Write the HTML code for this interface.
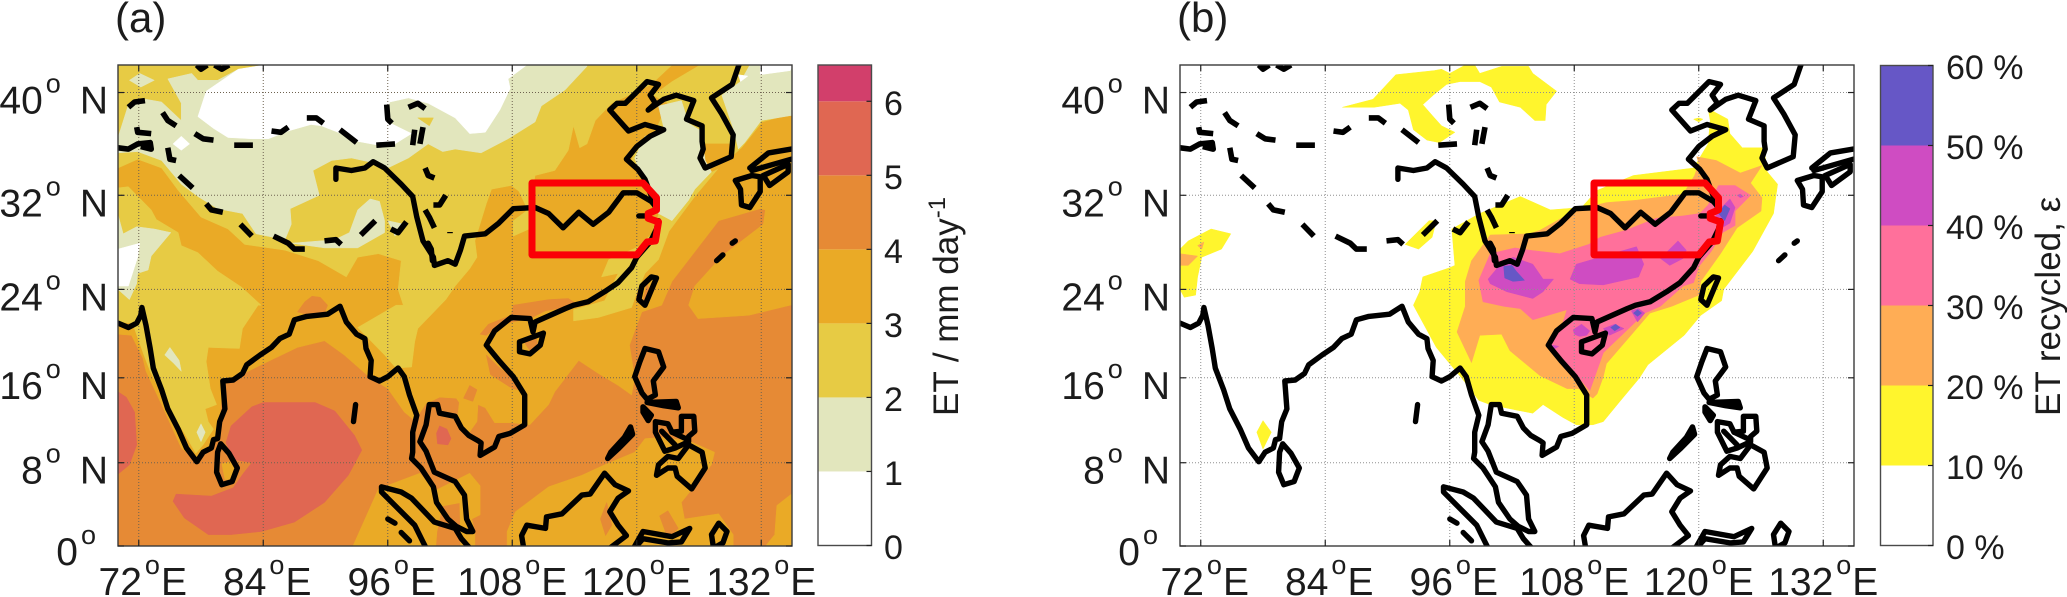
<!DOCTYPE html>
<html>
<head>
<meta charset="utf-8">
<title>ET and ET recycled maps</title>
<style>
html,body{margin:0;padding:0;background:#fff;}
svg{display:block;font-family:"Liberation Sans",sans-serif;fill:#1c1c1c;}
</style>
</head>
<body>
<svg id="fig" xmlns="http://www.w3.org/2000/svg" width="2067" height="597" viewBox="0 0 2067 597">
<defs>
<clipPath id="clip-a"><rect x="118" y="65" width="674" height="481"/></clipPath>
<clipPath id="clip-b"><rect x="1180" y="65" width="674" height="481"/></clipPath>
</defs>
</svg>
<script>
// ---------- axis data ----------
const lonTicks = [72, 84, 96, 108, 120, 132];
const latTicks = [0, 8, 16, 24, 32, 40];
const etBarTicks = [0, 1, 2, 3, 4, 5, 6];
const etBarEdges = [0, 1, 2, 3, 4, 5, 6, 6.49];
const etBarColors = ['#ffffff', '#e2e6bd', '#e7cb44', '#eaaa26', '#e68a35', '#e06752', '#d23f6b'];
const recBarTicks = [0, 10, 20, 30, 40, 50, 60];
const recBarEdges = [0, 10, 20, 30, 40, 50, 60];
const recBarColors = ['#ffffff', '#fff52d', '#ffad55', '#ff709b', '#cf4cc2', '#6657c6'];

// ---------- panel (a) contours, lon/lat ----------
const etFull = [[70,-1],[135,-1],[135,42],[70,42]];
const etGoldNorth = [[70,20],[71.3,19.9],[72.4,17.8],[72.7,16.6],[74.2,13.5],[76.1,9.4],[77.7,8.1],[79.6,10.3],[80.1,15.3],[81.9,16.3],[83.8,17.2],[87.3,18.8],[89.9,19.4],[91.8,18.1],[94.3,16],[96,15],[97.6,12.8],[98.6,12],[99.7,13.6],[101,14.2],[102.6,14.1],[102.9,13.7],[102.7,12.1],[103.8,10.8],[104.6,11.9],[104.7,13.5],[105.4,13.2],[106.3,11.8],[107.9,11.8],[109.7,11.6],[111.5,13.5],[112.1,14.7],[114.4,17.6],[116.3,16.4],[118.2,15.3],[119.5,14.4],[119.8,16],[119.3,19],[120,20.8],[120.5,22],[122.4,22.6],[123.4,24.7],[127.9,29.9],[131.9,30.9],[132.4,30.8],[132.2,29.6],[128.2,26.9],[125.6,24.3],[125,22.6],[125.9,21.4],[130.8,21.7],[134.8,22.6],[135,22.6],[135,42],[70,42]];
const etGoldBorneo = [[107.5,-1],[107.5,1.4],[108.3,3.3],[111.5,5.7],[114.7,6.8],[116.9,7.8],[119.8,9],[120.8,10.3],[122.4,10.4],[125,10.1],[127.5,9],[127.2,7.8],[124.3,4.2],[124.6,2.6],[127.9,3.1],[129.3,1.1],[129.3,-1]];
const etGoldEast = [[131.6,-1],[133.3,1.1],[133.5,3.9],[134.9,5],[135,5],[135,-1]];
const etGoldMalay = [[92.2,-1],[95.1,5.5],[99.1,7],[100.5,5.3],[102.5,6.3],[103.9,7],[104.9,5.8],[104.9,3],[104.1,2.6],[104.4,1.3],[104.4,-1]];
const etGoldLanka = [[80,7.9],[80.8,8.1],[81.6,7.2],[81.1,6.4],[80.3,6.4]];
const etOrangeBengal = [[87.3,22],[88,22.9],[88.7,23.4],[89.5,23.3],[90.2,22.6],[89.9,21.9],[88.5,21.7]];
const etOrangeCoast = [[104.9,20],[105.7,20.9],[107.9,21.7],[108.1,22.6],[111.5,23.1],[113.4,23.2],[114.4,22.6],[111.2,22.1],[109.9,21.5],[106.7,20.8],[105.5,19.9]];
const etOrangeVietnam = [[105.5,18.1],[106.7,17],[108,16],[109.1,14.8],[108,15],[105.9,16.3]];
const etOrangeLaos = [[103.3,14.1],[103.9,15.3],[104.6,14.9],[104.2,13.8]];
const etOrangeBorneoA = [[116.5,2.6],[117.1,4.2],[117.6,2],[117,1]];
const etOrangeBorneoB = [[122.2,2.9],[123,3.4],[124,1.7],[123,0.7]];
const etOrangeTaiwan = [[120.6,23.1],[121,24.5],[121.3,23.8],[121,22.6]];
const etOrangeHainan = [[109.2,19.2],[110.3,19.6],[110.5,19],[109.7,18.5]];
const etOrangeMalaya = [[101.3,3.8],[102.9,4.1],[103,-1],[100.6,-1],[100.8,1.4]];
const etRedBengal = [[75.3,4.3],[75.6,5],[79,4.8],[81.1,5.6],[82.1,7],[82.9,8],[81.2,8.3],[80.4,9.9],[80.9,11.5],[82.9,13.3],[84,13.7],[89,13.7],[90.9,12.9],[92.8,10.6],[93.5,9.2],[92.2,6.8],[89.9,4.2],[87,2.3],[83.8,1.4],[80.9,1.1],[78.7,1.1],[76.4,2.7]];
const etRedWest = [[70,14.7],[70.8,14.2],[71.6,12.8],[71.8,9.7],[71.1,7.8],[70,6.9]];
const etRedThai = [[100.7,10.8],[101,11.5],[101.7,11.2],[102.1,10.3],[101.8,9.7],[100.8,9.8]];
const etYellowNorth = [[70,34.2],[71.9,34.9],[74.2,34.2],[75.8,32.4],[78,30.2],[80.6,29.2],[82.2,27.9],[86.1,27.4],[89.3,26.5],[92,25.1],[93.1,26.8],[95.1,27.1],[97.3,26.5],[97,24],[97.5,22.6],[96.8,22.6],[93.1,20.6],[95.7,18.1],[96.8,16.9],[98.3,17],[98.6,19.3],[98.9,20.5],[101.6,23.1],[102.5,24.3],[103.9,25.8],[104.6,26.8],[104.4,28.2],[105.5,31.3],[106,32.5],[107.9,32.8],[108.7,32.3],[109.9,32.2],[110.2,33.6],[112.1,34],[113.4,35.6],[113.9,37.5],[114.5,35.8],[115.2,36.1],[116,37.9],[117.6,39.2],[119.8,40],[121.4,40.6],[123.4,42],[70,42]];
const etYellowBox = [[108.6,32.4],[109.9,32.4],[109.9,29.3],[108.1,28.6],[108.1,29.9],[109.5,30.8]];
const etYellowIndia = [[70,32.6],[71,32.7],[73.2,30.8],[73.7,30],[75.8,28.9],[76.1,27.8],[77.7,27.2],[79.6,25.6],[81.9,24.2],[83.8,22.6],[83.5,22.6],[82,20.5],[81.7,18.7],[78.7,18.8],[78.5,17.5],[78.9,15],[79.5,13.5],[78.4,13.1],[78.7,11.9],[79.2,11.2],[78.2,9.7],[77.5,8.9],[76.4,10.8],[75.3,12.5],[74,14.9],[73.1,16.6],[72.5,18.1],[71.4,21],[70,21.1]];
const etYellowEast = [[126.1,42],[123.4,40.8],[121.6,39.8],[123,39.2],[121.8,37.1],[120,36.1],[119.5,34.8],[120.6,33.3],[122.1,30.5],[121.8,29.1],[120.2,27.7],[117.3,26.6],[116.6,25.1],[118.2,25.4],[116.9,23],[113.9,22.2],[113.9,21.2],[116.3,21.5],[119.5,22.4],[120,23.7],[120.8,25.4],[122.1,26.6],[123.1,29],[125.6,31.9],[127.9,34.2],[130.1,35.8],[132.1,37.8],[134.9,38.4],[135,38.4],[135,42]];
const etGoldKorea = [[126.4,36.1],[127.5,36.1],[129.1,36.1],[129.5,34.8],[127.2,33.9],[126.4,34.6]];
const etPaleMain = [[70,35.4],[71.9,35.5],[74.2,34.8],[76.1,32.9],[77.7,31.9],[79.6,30.9],[82,30.5],[83.3,28.8],[86.1,28.3],[86.7,29.6],[86.6,30.9],[89.4,32],[88.8,34],[90.6,34.8],[92.5,35],[94.7,34.6],[96,34.2],[98,35],[99.9,36.1],[101.3,35.5],[102.5,35.7],[105,35.4],[107.6,36.5],[110.2,37.8],[110.8,39],[113.1,40.2],[115.2,41.9],[115.2,42],[85,42],[81.6,41.7],[79.6,40.9],[77.7,40.9],[77.1,41.4],[74.8,41],[76.1,39.2],[76.1,37.9],[74.2,39.3],[72.7,39.5],[71,39.1],[70,36.6]];
const etPaleTibet = [[86.7,28],[89.9,27.6],[93.1,27.6],[95.7,28.9],[95.7,29.9],[95.2,31.5],[94.3,31.7],[93.1,30.8],[92.3,28.9],[90.9,28.3]];
const etPaleSmall = [[96,29.9],[97.6,29.6],[96.7,28.6]];
const etPaleDiamond = [[71.1,40.9],[72.1,41.4],[73.5,40.9],[72.2,40.4]];
const etPaleLeft = [[70,30.4],[70.5,28.8],[71.8,29.4],[73.5,29.2],[75.1,28.9],[73.2,26.9],[72.9,25.7],[71.9,25.4],[71.8,24.5],[71.1,23.1],[70,24]];
const etPaleDeccanA = [[74.5,18.1],[75,18.8],[75.9,17.6],[76.1,16.6],[75.3,17.4]];
const etPaleDeccanB = [[77.6,10.9],[78,11.7],[78.4,10.9],[78,10]];
const etPaleYellowSea = [[119.8,35],[120.8,36.7],[122.7,37],[122.1,39],[124.3,39.4],[125,37.7],[126.2,37.1],[126.6,34.8],[127.2,33.9],[125.6,32.5],[125,31.6],[123.4,29.9],[122.1,30.5],[121.4,32.5],[120.3,33.8]];
const etPaleNorthEast = [[128.2,39.8],[130,40.8],[130.9,42],[135,42],[135,38.3],[132,37.9],[130.4,36.2],[129.8,35.7],[129.3,37.3]];
const etWhiteMain = [[109.4,42],[107.6,41],[107.8,40.3],[106.8,38.7],[105.4,37],[103.9,36.9],[102.5,38.1],[99.9,39.2],[98,39.6],[96.2,39.3],[95.9,38.7],[96,37.8],[98.3,36.9],[96.7,36.1],[95.1,36],[93.1,36.3],[91.2,37],[89.6,37.5],[88.6,37.6],[86.4,37.1],[84.5,36.5],[82.9,36.5],[80.6,36.6],[79.2,37.3],[77.7,38.2],[78.5,40.1],[81.6,41.7],[84.1,42]];
const etWhiteDiamond = [[75.3,36.1],[76.1,36.7],[76.9,36.1],[76.1,35.6]];
const etWhiteLeft = [[70,27.5],[72.1,28],[71.9,26.8],[71,24.3],[70,24.3]];
const etWhiteNorthEast = [[130.9,42],[131.9,42],[131.9,41.3],[134.8,41.6],[135,42]];
const etWhiteTriangle = [[130,40.8],[130.7,41.2],[129.8,41.3]];
const etGoldInPale = [[98.9,38.1],[100.4,38.1],[100,37.5]];

// ---------- panel (b) contours, lon/lat ----------
const recYellowMain = [[93.4,25.1],[96,25.9],[96.5,26.1],[96.2,29.2],[98.9,30.5],[102.8,31.9],[105.7,30.8],[108.7,31],[110.2,32.4],[113.7,33.6],[119.5,34.2],[120.9,36.1],[121.1,37.9],[120.9,38.8],[122.8,38],[123,36.9],[124.2,35.8],[126.3,35.8],[126.6,33.9],[127.6,32.9],[127.2,30.5],[125.2,27.3],[122.4,24],[122.2,23],[120.2,21.7],[118.6,19.9],[115.1,17.2],[114.3,16],[112.4,13.8],[110.8,11.9],[109.8,11.6],[108.2,11.6],[106.9,12.3],[105,13.5],[104,12.7],[102.4,13],[99.9,13.5],[98.8,13.9],[97.3,15.8],[96,17.3],[94.7,18.8],[92.5,22.6],[93.1,23.8]];
const recYellowNorth = [[85.65,38.9],[88.6,39.5],[90.8,41.3],[94.5,41.6],[95.2,41.7],[96,41.4],[97.5,42],[98.4,42],[98.9,41.4],[101,41.9],[103.6,41.9],[104,41.4],[106.3,40.1],[105.3,39.1],[105.2,37.9],[104.2,37.9],[102.8,38.9],[100.8,39.3],[100,40.4],[98.9,40.8],[97,40.8],[95.7,40.6],[94.4,39.8],[93.4,39.1],[94.3,38.3],[95.2,37.5],[96.5,37],[95,36.2],[93.8,36.4],[92.5,37.2],[92,38.7],[91.2,39.2],[88.7,38.9]];
const recYellowWest = [[70,27.5],[70.8,28.2],[73,29.2],[74.9,28.8],[74,27.5],[72.1,26.8],[71.7,25.1],[71.5,23.5],[70.4,23.3],[70,24]];
const recYellowDeccan = [[78,12],[78.8,10.9],[78,9.3],[77.4,10.9]];
const recYellowTibet = [[91.7,27.9],[94,29.9],[94.7,29.9],[94.3,28.5],[93,27.5]];
const recYellowBohai = [[119.5,38],[120,38.1],[120.4,38],[120,37.8]];
const recOrangeMain = [[119.8,35.1],[121.7,34.8],[124,33.8],[126.1,34.4],[125,33],[126.1,31.8],[126,30.7],[123.7,29.3],[122.1,27.1],[120.2,24.7],[120,23.5],[117.4,22.5],[115.3,21.9],[111.1,17.3],[110.8,16.1],[110.2,14.5],[109.8,14.1],[108.4,15],[107.3,15],[104.7,16.2],[101.8,18.5],[101,20],[98.9,19.9],[98.1,17.4],[96.7,20.2],[97.5,22.5],[97.5,24.7],[98.1,26.5],[99.9,28.7],[103.7,28.8],[104.7,29.1],[108.2,30.8],[111.1,31.4],[114,31.6],[118.5,32.1],[119.6,33.6],[120,34.6]];
const recOrangeWestA = [[70,27.1],[71.7,26.9],[70.8,26.1],[70,26.1]];
const recOrangeWestB = [[71.7,27.8],[72.3,28.1],[72.1,27.5]];
const recPinkMain = [[121.9,32.8],[123.5,32.8],[125,32],[123.5,30.7],[123.5,29.5],[122.3,28.9],[121.2,27.3],[120,26],[119.5,24.6],[118.5,24.3],[116.3,22.5],[114.8,21.9],[110.8,18.3],[109.5,14.8],[107.9,16.6],[106.3,17.9],[105.3,19.1],[106.9,21],[107.3,22.2],[104,21.3],[102.8,22.3],[101.2,22.5],[99.2,22.9],[98.8,24.8],[99.9,27.1],[102.3,27.6],[103.7,27.4],[106.6,27.1],[109.4,27.9],[110.5,28.5],[113,29.1],[115.9,30.1],[118.5,30.3],[120.1,30.5],[120.9,31.2]];
const recPurpleWest = [[99.7,24.9],[100.8,26.1],[102.1,26.8],[104,26.2],[105,24.9],[106,24.9],[105,23.8],[104,23.2],[101.5,23.8],[99.9,24.5]];
const recPurpleMid = [[107.6,24.9],[108.2,26.2],[110.5,26.8],[114,27.7],[114.7,26.2],[114.2,25.1],[110.8,24.4],[108.5,24.5]];
const recPurpleEast = [[116.3,26.7],[118,28.2],[118.8,27.4],[118.5,26.7],[117.2,26.1]];
const recPurpleMouth = [[121.6,30.2],[122.2,31],[123,31.7],[123.5,31],[123,29.7],[122.4,29.4]];
const recPurpleDot = [[123.7,32],[124,32.1],[124.3,31.9],[124,31.8]];
const recPurpleTonkin = [[107.9,20.4],[108.7,20.9],[109.5,20.3],[109.2,19.9],[108.5,19.8],[108,20]];
const recPurpleLeizhou = [[110.8,20.5],[111.9,20.9],[112.8,20.5],[111.4,19.9]];
const recPurpleCanton = [[113.5,22.1],[114.2,22.3],[114.8,21.9],[114.1,21.1]];
const recPurpleVietnam = [[105.3,19.1],[106.5,18.9],[105.8,18.5]];
const recBlueWest = [[101.2,26],[102,26.1],[102.4,25.6],[103.2,24.8],[102.1,24.7],[101.3,25]];
const recBlueMouth = [[121.9,30.5],[122.5,31.2],[123,30.9],[122.5,29.9]];
const recBlueLeizhou = [[111.5,20.6],[112,20.9],[112.4,20.6],[111.9,20.3]];
const recBlueCanton = [[113.7,21.9],[114.1,22.2],[114.5,21.9],[114.1,21.6]];

// ---------- shared geography, lon/lat ----------
const coastSouthAsia = [[70,21],[71,20.6],[71.8,21],[72.2,21.7],[72.3,22.4],[72.7,20.8],[73.1,18.7],[73.4,16.9],[74.2,14.9],[74.8,13.1],[75.8,11.2],[76.6,9.4],[77.6,8.1],[78.2,9],[79,9.4],[79.2,10.2],[79.6,10.3],[79.8,11.9],[80.3,13.1],[80.1,15.7],[81.1,15.8],[82,16.4],[82.4,17.2],[83.7,18.1],[84.8,18.8],[85.6,19.6],[86.5,20],[87,21.3],[88.2,21.6],[90.2,21.8],[91.4,22.5],[92,21.1],[93,20],[93.8,19.6],[93.9,18.7],[94.4,17.6],[94.3,16.1],[95.2,15.7],[96,16.1],[97,16.9],[97.6,16.1],[98.1,14.4],[98.8,12.5],[98.4,10.9],[98.4,9],[98.3,8.4],[99.2,7.5],[100.4,5.7],[100.7,4.2],[101.8,2.6],[102.6,1.9],[103.6,1.4],[104.2,1.4],[103.6,2.6],[103.4,4.9],[102.5,6.2],[100.5,7.1],[99.7,9.1],[99.1,10],[99.7,11.6],[100,13.5],[100.8,13.5],[101,12.7],[102.5,12.4],[103.1,11.3],[103.8,10.6],[104.7,10.1],[105,9.9],[104.9,8.7],[106.3,9.5],[106.7,10.5],[107.8,10.8],[109.2,11.6],[109.2,14.4],[108.1,16.1],[106.8,17.5],[105.5,19],[106.3,20.3],[107.9,21.5],[109.7,21.4],[110,20.2],[110.2,21.1],[113.1,22.3],[113.9,22.6],[115.3,22.9],[116.9,23.8],[118.2,24.6],[119.5,25.9],[120,26.8],[121.3,28.1],[121.9,29.2],[122.1,29.9]];
const coastEstuary = [[121.1,30.3],[120.2,30.3]];
const coastNorthChina = [[121.9,30.8],[120.8,33.3],[120.1,34.1],[119,34.9],[120,35.9],[121.3,36.7],[122.6,37.2],[120.8,37.6],[119.2,37.1],[117.4,38.7],[118.1,39.2],[118.9,39.2],[121,40.8],[122.1,40.6],[121.3,39.8],[121.8,39.2],[121.1,38.7],[122.6,39.5],[123.8,39.8],[125.5,39.4],[124.8,38],[126.3,37.5],[126.3,36.3],[126.4,35.7],[126.1,35],[126.6,34.2],[129.1,35.1],[129.3,36.8],[128.2,38.4],[127.2,39.6],[129.2,40.6],[129.8,41.9],[130,42.3]];
const riverLine = [[91,33.3],[91,34.2],[92.5,34],[93.8,34.2],[94.6,34.7],[95.7,34.2],[97.3,32.9],[98.4,31.9],[98.8,30.2],[99.4,28.2],[100.4,26.8],[100.5,26.1],[101.8,26.5],[102.5,26.2],[103,27.4],[103.4,28.6],[105.4,28.8],[106.7,29.7],[108.1,30.9],[110.2,31],[111.5,30.5],[112.9,29.3],[114.4,30.6],[115.8,29.6],[117.3,30.6],[118.7,32.2],[120,32.2],[121.4,31.5],[121.9,31]];
const riverBranch = [[99.9,28],[100.2,27.5],[100.3,26.5]];
const coastSumatra = [[103.9,-0.2],[103.1,0.7],[102.5,1.7],[100.5,2.3],[98.3,4.6],[97.3,5.2],[95.4,5.7],[95.4,5.2],[97.3,3.3],[98.6,2],[99.4,0.4],[99.7,-0.2]];
const islandLanka = [[79.9,9.8],[80.7,8.9],[81.5,7.5],[81,6.2],[80,5.9],[79.5,7.1],[79.6,9]];
const islandTaiwan = [[121.4,25.1],[121.9,25],[121.3,23.7],[120.8,22.6],[120.2,23.1],[120.5,24.3]];
const islandHainan = [[108.7,19.3],[111,20.1],[110.7,19],[109.7,18.2],[108.7,18.4]];
const islandLuzon = [[120.8,18.7],[122.1,18.4],[122.6,17],[121.6,15.7],[121.8,14.4],[121,14],[120.5,14.6],[119.8,16.1],[120.3,17.5]];
const islandBicol = [[121,13.7],[123.8,13.8],[124,13.2],[122.6,13.4]];
const islandMindoro = [[120.6,13.3],[121.4,12.5],[121.1,12],[120.6,12.8]];
const islandPalawan = [[119.4,11.4],[119.6,10.7],[118.3,9.4],[117.2,8.4],[117.5,9],[118.8,10.4]];
const islandVisayas = [[121.8,11.9],[123,11.7],[123.4,10.9],[124.3,11],[124.3,12.4],[125.5,12.4],[125.6,11],[125,10.5],[125,10],[123.7,9.4],[122.7,9.1],[121.8,10.9]];
const islandMindanao = [[125,9.7],[126.3,9],[126.6,7.5],[125.3,5.5],[123.9,6.7],[123.7,7.5],[123,7.5],[121.9,6.8],[122.1,7.8],[123,8.6],[124,8.4]];
const islandSulawesi = [[119.7,-0.2],[120.6,1.4],[123.4,0.9],[125.1,1.7],[124.3,0.4],[123,0.3],[120.6,0.7],[119.8,-0.2]];
const islandHalmahera = [[127.4,-0.2],[127.2,1.1],[127.9,2.2],[128.7,1.4],[128.3,0.3]];
const islandKyushu = [[131.1,33.6],[129.5,33.2],[130,32.5],[130.1,31.2],[130.9,31],[131.9,32.3],[131.9,33.5]];
const islandShikoku = [[132.2,33.6],[134.6,34.5],[134.6,33.9],[132.8,32.8]];
const coastBorneo = [[109.1,-0.2],[108.9,1],[109.4,2],[111.2,1.7],[111.3,2.8],[112.8,3.1],[114.7,4.9],[115.5,5],[116.9,7],[117.9,5.9],[119.2,5.3],[118.2,4.6],[117.4,3.3],[118.2,2],[119,1],[117.4,-0.2]];
const coastHonshu = [[134.9,35.7],[132.7,35.4],[130.9,34.2]];
const coastInlandSea = [[131.1,34],[134.9,34.9]];
const visayasInnerA = [[122.4,11],[123.7,9.7]];
const visayasInnerB = [[123.4,10.9],[124.7,10.3]];
const isletAndaman = [[92.9,13.5],[92.7,11.9]];
const isletNias = [[96,2.6],[96.7,2.2]];
const isletMentawai = [[97.3,1.3],[98.1,0.5]];
const isletRyukyuA = [[129.5,28.2],[129.2,28]];
const isletRyukyuB = [[127.7,26.5],[128.3,27]];
const borderDashes = [
  [[77.6,42],[78,41.7],[78.6,42]],[[79.3,42],[80,41.7],[80.7,42]],
  [[71,38.9],[71.6,39.3],[72.6,39.4]],[[74.3,38.5],[74.8,37.9],[75.6,37.5]],
  [[71.8,37.4],[71.9,37],[73.2,36.9]],[[70,35.8],[71,35.7],[71.9,36.1],[73.1,36.2],[73.2,35.7],[72.2,35.9]],
  [[74.8,35.8],[75,34.9],[75.6,34.8]],[[77.4,36.9],[78.2,36.5],[79.2,36.4]],
  [[81.2,36],[83,36]],[[84.8,37.1],[85.7,37],[86.4,37.4]],
  [[88.2,38.1],[89.1,38.1],[89.8,37.7]],[[91.4,37.2],[93,36.2]],
  [[94.9,36],[96.7,36.1]],[[95.9,39.1],[96,38],[96.4,37.7]],
  [[98,38.9],[98.9,39.2],[99.6,38.8]],[[98.6,37.2],[98.4,36]],[[99.4,37.4],[99.1,36.1]],
  [[75.9,33.6],[77.2,32.6]],[[78.5,31.3],[79,30.8],[80.1,30.6]],
  [[81.8,29.6],[82.9,28.6]],[[85,28.6],[86.4,28],[87,27.5],[88,27.5]],
  [[89.9,28.2],[91,28.3],[91.5,27.9]],[[93.4,28.7],[94.8,29.9]],
  [[96.3,29.2],[97,28.9],[97.8,29.8]],[[99.6,34.2],[99.9,33.6],[100.5,33.4]],
  [[100.4,31.2],[101,31.2],[101.6,32]],[[99.6,30.8],[100,30.2],[100.5,29.3]],
  [[102,28.95],[102,28.85]]
];
const redBoxBoundary = [[109.9,33],[120.6,33],[121.9,31.8],[121.9,30.8],[121.1,30.5],[121.1,30.1],[122.1,29.8],[121.8,28.2],[121,28.1],[120,27],[109.9,27]];

// ---------- layer lists ----------
const etLayers = [
  ['#e68a35', [etFull]],
  ['#eaaa26', [etGoldNorth, etGoldBorneo, etGoldEast, etGoldMalay]],
  ['#e68a35', [etOrangeBengal, etOrangeCoast, etOrangeVietnam, etOrangeLaos, etOrangeBorneoA, etOrangeBorneoB, etOrangeTaiwan, etOrangeHainan, etOrangeMalaya]],
  ['#eaaa26', [etGoldLanka]],
  ['#e06752', [etRedBengal, etRedWest, etRedThai]],
  ['#e7cb44', [etYellowNorth, etYellowIndia, etYellowEast, etYellowBox]],
  ['#eaaa26', [etGoldKorea]],
  ['#e2e6bd', [etPaleMain, etPaleTibet, etPaleSmall, etPaleDiamond, etPaleLeft, etPaleDeccanA, etPaleDeccanB, etPaleYellowSea, etPaleNorthEast]],
  ['#ffffff', [etWhiteMain, etWhiteDiamond, etWhiteLeft, etWhiteNorthEast, etWhiteTriangle]],
  ['#e7cb44', [etGoldInPale]]
];
const recLayers = [
  ['#fff52d', [recYellowMain, recYellowNorth, recYellowWest, recYellowDeccan, recYellowTibet, recYellowBohai]],
  ['#ffad55', [recOrangeMain, recOrangeWestA, recOrangeWestB]],
  ['#ff709b', [recPinkMain]],
  ['#cf4cc2', [recPurpleWest, recPurpleMid, recPurpleEast, recPurpleMouth, recPurpleDot, recPurpleTonkin, recPurpleLeizhou, recPurpleCanton, recPurpleVietnam]],
  ['#6657c6', [recBlueWest, recBlueMouth, recBlueLeizhou, recBlueCanton]]
];
const openCoasts = [coastSouthAsia, coastEstuary, coastNorthChina, riverLine, riverBranch, coastSumatra, coastBorneo, coastHonshu, coastInlandSea, visayasInnerA, visayasInnerB];
const closedCoasts = [islandLanka, islandTaiwan, islandHainan, islandLuzon, islandMindoro, islandVisayas, islandMindanao, islandSulawesi, islandHalmahera, islandKyushu, islandShikoku];
const thickIslands = [islandBicol, islandPalawan, isletAndaman, isletNias, isletMentawai, isletRyukyuA, isletRyukyuB];

// ---------- drawing ----------
const NS = 'http://www.w3.org/2000/svg';
const fig = document.getElementById('fig');
const PANEL_TOP = 65, PANEL_BOTTOM = 546, PANEL_W = 674, LON0 = 70, PX_PER_DEG = 10.375, MERC_K = 594.4;

function xAxis(off, lon) { return 118 + off + (lon - LON0) * PX_PER_DEG; }
function yAxis(lat) { return PANEL_BOTTOM - MERC_K * Math.log(Math.tan(Math.PI / 4 + lat * Math.PI / 360)); }
function pathFrom(off, pts) { return pts.map(function (p) { return xAxis(off, p[0]).toFixed(1) + ',' + yAxis(p[1]).toFixed(1); }).join(' '); }
function el(tag, parent, attrs) {
  const e = document.createElementNS(NS, tag);
  for (const k in attrs) e.setAttribute(k, attrs[k]);
  parent.appendChild(e);
  return e;
}

function supLabel(parent, x, y, anchor, size, parts) {
  const t = el('text', parent, { x: x, y: y, 'text-anchor': anchor, 'font-size': size });
  t.appendChild(document.createTextNode(parts.main));
  const o = el('tspan', t, { dx: 3, dy: -21, 'font-size': 27 });
  o.textContent = 'o';
  if (parts.tail) {
    const s = el('tspan', t, { dx: parts.gap, dy: 21, 'font-size': size });
    s.textContent = parts.tail;
  }
  return t;
}

function drawPanel(off, layers, clipId, panelName) {
  const g = el('g', fig, {});
  
  

  const map = el('g', g, { 'clip-path': 'url(#' + clipId + ')' });
  
  
  layers.forEach(function (layer) {
    layer[1].forEach(function (poly) {
      const p = el('polygon', map, { points: pathFrom(off, poly), fill: layer[0], stroke: layer[0], 'stroke-width': 0.5 });
      
      
    });
  });

  const grid = el('g', map, { stroke: off ? '#8f8f8f' : '#6e6250', 'stroke-width': 1, 'stroke-dasharray': '1 2' });
  
  
  lonTicks.forEach(function (lon) {
    const x = xAxis(off, lon);
    const l = el('line', grid, { x1: x, x2: x, y1: PANEL_TOP, y2: PANEL_BOTTOM });
    
    
  });
  latTicks.forEach(function (lat) {
    const y = yAxis(lat);
    const l = el('line', grid, { x1: 118 + off, x2: 118 + off + PANEL_W, y1: y, y2: y });
    
    
  });

  const geo = el('g', map, { fill: 'none', stroke: '#000', 'stroke-width': 5.4, 'stroke-linejoin': 'round', 'stroke-linecap': 'round' });
  
  
  openCoasts.forEach(function (c) {
    const p = el('polyline', geo, { points: pathFrom(off, c) });
    
    
  });
  closedCoasts.forEach(function (c) {
    const p = el('polygon', geo, { points: pathFrom(off, c) });
    
    
  });
  thickIslands.forEach(function (c) {
    const p = el('polygon', geo, { points: pathFrom(off, c), fill: '#000' });
    
    
  });
  borderDashes.forEach(function (c) {
    const p = el('polyline', geo, { points: pathFrom(off, c), 'stroke-linecap': 'butt', 'stroke-width': 5.6 });
    
    
  });

  const box = el('polygon', map, { points: pathFrom(off, redBoxBoundary), fill: 'none', stroke: '#fb0006', 'stroke-width': 7, 'stroke-linejoin': 'round' });
  
  

  const frame = el('rect', g, { x: 118 + off, y: PANEL_TOP, width: PANEL_W, height: PANEL_BOTTOM - PANEL_TOP, fill: 'none', stroke: '#3a3a3a', 'stroke-width': 1.4 });
  
  

  lonTicks.forEach(function (lon) {
    const x = xAxis(off, lon);
    [[PANEL_TOP, PANEL_TOP + 6], [PANEL_BOTTOM, PANEL_BOTTOM - 6]].forEach(function (ys) {
      const t = el('line', g, { x1: x, x2: x, y1: ys[0], y2: ys[1], stroke: '#222', 'stroke-width': 1.2 });
      
      
    });
    const name = String(lon);
    const lab = supLabel(g, x + (name.length === 2 ? 4 : 0), 595, 'middle', 39, { main: name, tail: 'E', gap: 1 });
    
    
  });
  latTicks.forEach(function (lat) {
    const y = yAxis(lat);
    [[118 + off, 124 + off], [118 + off + PANEL_W, 112 + off + PANEL_W]].forEach(function (xs) {
      const t = el('line', g, { x1: xs[0], x2: xs[1], y1: y, y2: y, stroke: '#222', 'stroke-width': 1.2 });
      
      
    });
    const lab = lat === 0
      ? supLabel(g, 96 + off, y + 19, 'end', 39, { main: '0' })
      : supLabel(g, 108 + off, y + 21, 'end', 39, { main: String(lat), tail: 'N', gap: 19 });
    
    
  });
}

function drawBar(x, w, top, bottom, edges, colors, ticks, fmt, labelX, name) {
  const g = el('g', fig, {});
  
  
  const lo = edges[0], hi = edges[edges.length - 1];
  const yOf = function (v) { return bottom - (v - lo) / (hi - lo) * (bottom - top); };
  colors.forEach(function (c, i) {
    const r = el('rect', g, { x: x, y: yOf(edges[i + 1]), width: w, height: yOf(edges[i]) - yOf(edges[i + 1]), fill: c });
    
    
  });
  const f = el('rect', g, { x: x, y: top, width: w, height: bottom - top, fill: 'none', stroke: '#4a4a4a', 'stroke-width': 1.4 });
  
  
  ticks.forEach(function (v) {
    const y = yOf(v);
    const t = el('line', g, { x1: x + w - 5, x2: x + w, y1: y, y2: y, stroke: '#222', 'stroke-width': 1.2 });
    
    
    const l = el('text', g, { x: labelX, y: y + 13.5, 'font-size': 34 });
    l.textContent = fmt(v);
    
    
  });
}

drawPanel(0, etLayers, 'clip-a', 'panel-a-et-map');
drawPanel(1062, recLayers, 'clip-b', 'panel-b-recycled-map');
drawBar(818, 53.5, 65, 545.5, etBarEdges, etBarColors, etBarTicks, function (v) { return String(v); }, 884, 'et-colorbar');
drawBar(1880.5, 52.5, 65.5, 545.5, recBarEdges, recBarColors, recBarTicks, function (v) { return v + ' %'; }, 1946, 'recycled-colorbar');

const titleA = el('text', fig, { x: 115, y: 32, 'font-size': 42 });
titleA.textContent = '(a)';


const titleB = el('text', fig, { x: 1177, y: 32, 'font-size': 42 });
titleB.textContent = '(b)';



const yLabA = el('text', fig, { transform: 'translate(958,416) rotate(-90)', 'font-size': 35 });
yLabA.appendChild(document.createTextNode('ET / mm day'));
const yLabASup = el('tspan', yLabA, { dy: -13, 'font-size': 24 });
yLabASup.textContent = '-1';



const yLabB = el('text', fig, { transform: 'translate(2060,416) rotate(-90)', 'font-size': 35 });
yLabB.textContent = 'ET recycled, ε';


</script>
</body>
</html>
